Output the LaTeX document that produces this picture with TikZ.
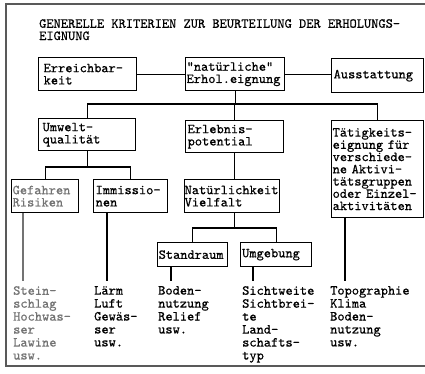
\documentclass[tikz,border=0pt]{standalone}
\usepackage{fontspec}
\newfontfamily\mono{lmmono10-regular}[Extension=.otf, FakeBold=0.6]
\begin{document}
\begin{tikzpicture}[x=1bp,y=-1bp,
  every node/.style={font=\mono\fontsize{13.8}{12.3}\selectfont},
  bx/.style={draw, line width=1.3bp, anchor=north west, align=left, inner ysep=0pt},
  lst/.style={anchor=north west, align=left, inner sep=0pt, font=\mono\fontsize{13.8}{13}\selectfont},
  ln/.style={line width=1.1bp},
]
\useasboundingbox (0,0) rectangle (425,374);
\draw[line width=1.2bp, black!65] (6,4) rectangle (432,366);
\node[anchor=north west, align=left, inner sep=0pt] (title) at (39,19) {GENERELLE KRITERIEN ZUR BEURTEILUNG DER ERHOLUNGS-\\EIGNUNG};

\node[bx, minimum width=98bp, minimum height=33bp, text width=88bp, inner xsep=5bp] (erreich) at (38,57) {Erreichbar-\\keit};
\node[bx, minimum width=99bp, minimum height=33bp, text width=97bp, inner xsep=1bp] (natur) at (185,57) {"natürliche"\\Erhol.eignung};
\node[bx, minimum width=92bp, minimum height=34bp, text width=88bp, inner xsep=2bp] (ausst) at (331,58) {Ausstattung};
\node[bx, minimum width=97bp, minimum height=32bp, text width=89bp, inner xsep=4bp] (umwelt) at (38,118) {Umwelt-\\qualität};
\node[bx, minimum width=98bp, minimum height=32bp, text width=94bp, inner xsep=2bp] (erleb) at (185,120) {Erlebnis-\\potential};
\node[bx, minimum width=92bp, minimum height=97bp, text width=90bp, inner xsep=1bp] (taetig) at (331,120) {Tätigkeits-\\eignung für\\verschiede-\\ne Aktivi-\\tätsgruppen\\oder Einzel-\\aktivitäten};
\node[bx, minimum width=67bp, minimum height=33bp, text width=65bp, inner xsep=1bp, text=black!55] (gefahr) at (11,179) {Gefahren\\Risiken};
\node[bx, minimum width=74bp, minimum height=33bp, text width=70bp, inner xsep=2bp] (immiss) at (93,179) {Immissio-\\nen};
\node[bx, minimum width=95bp, minimum height=33bp, text width=95bp, inner xsep=0bp] (natlich) at (184,179) {Natürlichkeit\\Vielfalt};
\node[bx, minimum width=70bp, minimum height=24bp, text width=68bp, inner xsep=1bp] (stand) at (157,242) {Standraum};
\node[bx, minimum width=71bp, minimum height=24bp, text width=68bp, inner xsep=1.5bp] (umgeb) at (240,242) {Umgebung};

\node[lst, text=black!55] (l1) at (13,286) {Stein-\\schlag\\Hochwas-\\ser\\Lawine\\usw.};
\node[lst] (l2) at (94,286) {Lärm\\Luft\\Gewäs-\\ser\\usw.};
\node[lst] (l3) at (158,286) {Boden-\\nutzung\\Relief\\usw.};
\node[lst] (l4) at (242,286) {Sichtweite\\Sichtbrei-\\te\\Land-\\schafts-\\typ};
\node[lst] (l5) at (330,286) {Topographie\\Klima\\Boden-\\nutzung\\usw.};

\draw[ln] (erreich) -- (natur);
\draw[ln] (natur.east) -- (natur.east -| ausst.west);
\coordinate (bus1) at (0,104);
\draw[ln] (natur.south) -- (natur.south |- bus1);
\draw[ln] (umwelt.north) -- (umwelt.north |- bus1) -- (taetig.north |- bus1) -- (taetig.north);
\draw[ln] (erleb.north) -- (erleb.north |- bus1);
\coordinate (bus2) at (0,167);
\draw[ln] (umwelt.south) -- (umwelt.south |- bus2);
\draw[ln] (gefahr.north) -- (gefahr.north |- bus2) -- (immiss.north |- bus2) -- (immiss.north);
\draw[ln] (erleb.south) -- (natlich.north -| erleb.south);
\coordinate (bus3) at (0,228);
\draw[ln] (natlich.south -| erleb.south) -- (erleb.south |- bus3);
\draw[ln] (stand.north) -- (stand.north |- bus3) -- (umgeb.north |- bus3) -- (umgeb.north);
\coordinate (d1) at (23,281);
\coordinate (d2) at (107,281);
\coordinate (d3) at (171,281);
\coordinate (d4) at (253,281);
\coordinate (d5) at (345,281);
\draw[ln, black!55] (gefahr.south -| d1) -- (d1);
\draw[ln] (immiss.south -| d2) -- (d2);
\draw[ln] (stand.south -| d3) -- (d3);
\draw[ln] (umgeb.south -| d4) -- (d4);
\draw[ln] (taetig.south -| d5) -- (d5);
\end{tikzpicture}
\end{document}
